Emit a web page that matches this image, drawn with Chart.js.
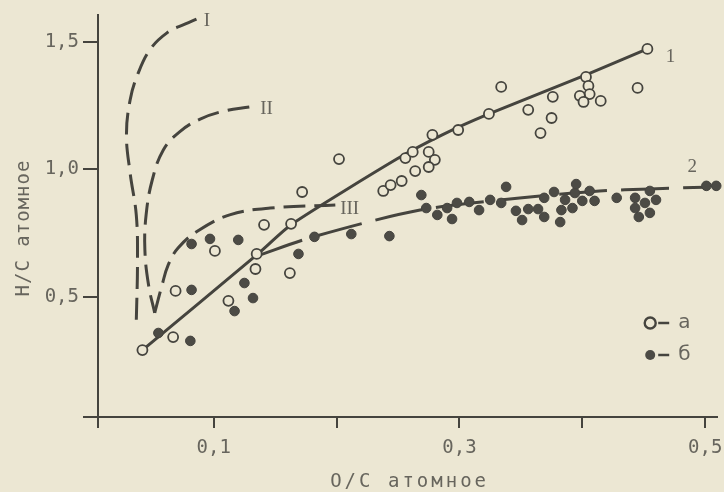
<!DOCTYPE html>
<html>
<head>
<meta charset="utf-8">
<script src="https://cdn.jsdelivr.net/npm/chart.js@4.4.0/dist/chart.umd.min.js"></script>
<style>
  html, body { margin: 0; padding: 0; background: #ece7d3; }
  canvas { display: block; }
</style>
</head>
<body>
<canvas id="vanKrevelen" width="724" height="492"></canvas>
<script>
// точки "а" (светлые кружки)
const aX = [0.042, 0.067, 0.069, 0.101, 0.112, 0.135, 0.134, 0.141, 0.163, 0.162, 0.202, 0.172, 0.238, 0.244, 0.253, 0.256, 0.262, 0.264, 0.275, 0.280, 0.275, 0.278, 0.299, 0.324, 0.334, 0.356, 0.376, 0.375, 0.366, 0.403, 0.405, 0.406, 0.398, 0.401, 0.415, 0.445, 0.453];
const aY = [0.291, 0.342, 0.523, 0.680, 0.484, 0.668, 0.609, 0.782, 0.786, 0.593, 1.040, 0.911, 0.915, 0.938, 0.954, 1.044, 1.068, 0.993, 1.068, 1.037, 1.009, 1.135, 1.154, 1.217, 1.323, 1.233, 1.284, 1.201, 1.142, 1.362, 1.327, 1.295, 1.288, 1.264, 1.268, 1.319, 1.472];

// точки "б" (тёмные кружки)
const bX = [0.055, 0.081, 0.082, 0.082, 0.097, 0.120, 0.117, 0.125, 0.132, 0.169, 0.182, 0.212, 0.243, 0.269, 0.273, 0.282, 0.290, 0.294, 0.298, 0.308, 0.316, 0.325, 0.334, 0.338, 0.346, 0.351, 0.356, 0.364, 0.369, 0.369, 0.377, 0.382, 0.383, 0.386, 0.392, 0.394, 0.395, 0.400, 0.406, 0.410, 0.428, 0.443, 0.443, 0.446, 0.451, 0.455, 0.455, 0.460, 0.501, 0.509];
const bY = [0.358, 0.327, 0.527, 0.707, 0.727, 0.723, 0.444, 0.554, 0.495, 0.668, 0.735, 0.746, 0.738, 0.899, 0.848, 0.821, 0.848, 0.805, 0.868, 0.872, 0.840, 0.880, 0.868, 0.931, 0.837, 0.801, 0.844, 0.844, 0.813, 0.888, 0.911, 0.793, 0.840, 0.880, 0.848, 0.907, 0.942, 0.876, 0.915, 0.876, 0.888, 0.888, 0.848, 0.813, 0.868, 0.829, 0.915, 0.880, 0.935, 0.935];

// кривые 1 и 2
const c1X = [0.042, 0.136, 0.164, 0.249, 0.286, 0.324, 0.403, 0.453];
const c1Y = [0.291, 0.668, 0.786, 1.040, 1.135, 1.217, 1.370, 1.472];
const c2X = [0.135, 0.181, 0.268, 0.349, 0.414, 0.455, 0.499];
const c2Y = [0.660, 0.735, 0.840, 0.887, 0.915, 0.923, 0.930];

// штриховые кривые I, II, III
const cIX = [0.086, 0.077, 0.062, 0.048, 0.038, 0.032, 0.029, 0.032, 0.037, 0.038, 0.037];
const cIY = [1.589, 1.570, 1.535, 1.468, 1.370, 1.272, 1.135, 0.985, 0.821, 0.644, 0.401];
const cIIX = [0.129, 0.109, 0.089, 0.072, 0.059, 0.050, 0.045, 0.044, 0.047, 0.052];
const cIIY = [1.244, 1.229, 1.197, 1.146, 1.076, 0.958, 0.821, 0.684, 0.546, 0.437];
const cIIIX = [0.052, 0.058, 0.063, 0.071, 0.087, 0.113, 0.146, 0.199];
const cIIIY = [0.437, 0.546, 0.625, 0.691, 0.758, 0.821, 0.848, 0.860];

// подписи кривых
const curveLabels = ["I", "II", "III", "1", "2"];
const curveLabelX = [0.0945, 0.143, 0.2107, 0.4717, 0.4895];
const curveLabelY = [1.582, 1.236, 0.844, 1.440, 1.009];

// оси
const xTicks = [0.1, 0.2, 0.3, 0.4, 0.5];
const xTickLabels = ["0,1", "", "0,3", "", "0,5"];
const yTicks = [0.5, 1.0, 1.5];
const yTickLabels = ["0,5", "1,0", "1,5"];
const xTitle = "О/С атомное";
const yTitle = "Н/С атомное";
const legendLabels = ["а", "б"];

const X_MIN = 0.00585, X_MAX = 0.5098;
const Y_MIN = 0.0286, Y_MAX = 1.605;

const PAPER = "#ece7d3";
const INK = "#45443e";
const TEXT_INK = "#67655d";
const DOT = "#4c4b45";

const pts = (xs, ys) => xs.map((x, i) => ({ x, y: ys[i] }));

const dashedCurve = (xs, ys) => ({
  data: pts(xs, ys),
  showLine: true,
  borderColor: INK,
  borderWidth: 3,
  borderDash: [22, 9],
  borderCapStyle: "butt",
  tension: 0.4,
  pointRadius: 0,
  fill: false,
  clip: false,
  order: 3,
});

const paperPlugin = {
  id: "paperPlugin",
  beforeDraw(chart) {
    const { ctx, width, height } = chart;
    ctx.save();
    ctx.fillStyle = PAPER;
    ctx.fillRect(0, 0, width, height);
    ctx.restore();
  },
  afterDatasetsDraw(chart) {
    const { ctx, chartArea, scales } = chart;
    const x = scales.x, y = scales.y;
    ctx.save();

    // подписи кривых
    ctx.fillStyle = TEXT_INK;
    ctx.font = '19px "Liberation Serif"';
    ctx.textAlign = "center";
    ctx.textBaseline = "middle";
    curveLabels.forEach((t, i) => {
      ctx.fillText(t, x.getPixelForValue(curveLabelX[i]), y.getPixelForValue(curveLabelY[i]));
    });

    // легенда
    const lx = chartArea.right - 67;
    const ly = chartArea.top + 308;
    ctx.strokeStyle = INK;
    ctx.lineWidth = 2.4;
    ctx.beginPath();
    ctx.arc(lx, ly, 5.5, 0, Math.PI * 2);
    ctx.stroke();
    ctx.fillStyle = DOT;
    ctx.beginPath();
    ctx.arc(lx, ly + 32, 5, 0, Math.PI * 2);
    ctx.fill();
    ctx.lineWidth = 2.5;
    [ly, ly + 32].forEach((yy) => {
      ctx.beginPath();
      ctx.moveTo(lx + 8, yy);
      ctx.lineTo(lx + 19, yy);
      ctx.stroke();
    });
    ctx.fillStyle = TEXT_INK;
    ctx.font = '20px "DejaVu Sans"';
    ctx.textAlign = "left";
    ctx.fillText(legendLabels[0], lx + 28, ly);
    ctx.fillText(legendLabels[1], lx + 28, ly + 32);

    // названия осей
    ctx.font = '19px "DejaVu Sans Mono"';
    ctx.textAlign = "center";
    ctx.textBaseline = "alphabetic";
    ctx.letterSpacing = "3px";
    ctx.fillText(xTitle, (chartArea.left + chartArea.right) / 2 + 2, chartArea.bottom + 70);
    ctx.letterSpacing = "1px";
    ctx.translate(29, chartArea.top + 213);
    ctx.rotate(-Math.PI / 2);
    ctx.fillText(yTitle, 0, 0);
    ctx.restore();
  },
};

const ctx = document.getElementById("vanKrevelen").getContext("2d");
new Chart(ctx, {
  type: "scatter",
  data: {
    datasets: [
      {
        label: "а",
        data: pts(aX, aY),
        pointRadius: 5,
        pointBorderWidth: 1.8,
        pointBorderColor: INK,
        pointBackgroundColor: PAPER,
        clip: false,
        order: 1,
      },
      {
        label: "б",
        data: pts(bX, bY),
        pointRadius: 4.8,
        pointBorderWidth: 1,
        pointBorderColor: "#45443f",
        pointBackgroundColor: DOT,
        clip: false,
        order: 1,
      },
      {
        data: pts(c1X, c1Y),
        showLine: true,
        borderColor: INK,
        borderWidth: 3,
        tension: 0.2,
        pointRadius: 0,
        clip: false,
        order: 2,
      },
      {
        data: pts(c2X, c2Y),
        showLine: true,
        borderColor: INK,
        borderWidth: 3,
        borderDash: [48, 14],
        tension: 0.3,
        pointRadius: 0,
        clip: false,
        order: 2,
      },
      dashedCurve(cIX, cIY),
      dashedCurve(cIIX, cIIY),
      dashedCurve(cIIIX, cIIIY),
    ],
  },
  options: {
    responsive: false,
    animation: false,
    layout: { padding: { left: 0, top: 15, right: 6, bottom: 0 } },
    plugins: { legend: { display: false }, tooltip: { enabled: false } },
    scales: {
      x: {
        type: "linear",
        min: X_MIN,
        max: X_MAX,
        afterBuildTicks: (s) => { s.ticks = [X_MIN, ...xTicks].map((v) => ({ value: v })); },
        afterFit: (s) => { s.height = 75; s.paddingLeft = 0; s.paddingRight = 6; },
        ticks: {
          autoSkip: false,
          maxRotation: 0,
          padding: 9,
          color: TEXT_INK,
          font: { family: "DejaVu Sans Mono", size: 19 },
          callback: (v) => { const i = xTicks.indexOf(v); return i < 0 ? "" : xTickLabels[i]; },
        },
        grid: { drawOnChartArea: false, drawTicks: true, tickLength: 11, tickColor: INK, tickWidth: 2, lineWidth: 2, color: INK },
        border: { display: true, color: INK, width: 2 },
      },
      y: {
        type: "linear",
        min: Y_MIN,
        max: Y_MAX,
        afterBuildTicks: (s) => { s.ticks = [Y_MIN, ...yTicks].map((v) => ({ value: v })); },
        afterFit: (s) => { s.width = 98; s.paddingTop = 0; s.paddingBottom = 0; },
        ticks: {
          autoSkip: false,
          padding: 4,
          color: TEXT_INK,
          font: { family: "DejaVu Sans Mono", size: 19 },
          callback: (v) => { const i = yTicks.indexOf(v); return i < 0 ? "" : yTickLabels[i]; },
        },
        grid: { drawOnChartArea: false, drawTicks: true, tickLength: 15, tickColor: INK, tickWidth: 2, lineWidth: 2, color: INK },
        border: { display: true, color: INK, width: 2 },
      },
    },
  },
  plugins: [paperPlugin],
});
</script>
</body>
</html>
